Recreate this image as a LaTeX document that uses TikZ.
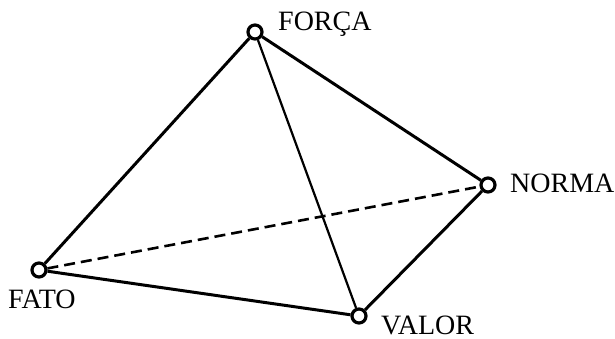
\documentclass[tikz,border=0pt]{standalone}
\usepackage{tikz}
\usepackage{fontspec}
\setmainfont{Liberation Serif}
\tikzset{
  vertex/.style={circle, draw=black, fill=white, line width=3.2pt, inner sep=0pt, minimum size=14pt},
  edge/.style={draw=black, line width=3pt},
  thinedge/.style={draw=black, line width=2.2pt},
  dashedge/.style={draw=black, line width=2.6pt, dash pattern=on 11pt off 6pt},
  tag/.style={font=\fontsize{28}{28}\selectfont, text=black, inner sep=0pt, anchor=base west}
}
\begin{document}
\begin{tikzpicture}[x=1pt,y=-1pt]
\useasboundingbox (0,0) rectangle (615,339);
\path[fill=white] (0,0) rectangle (615,339);
\node[vertex] (forca) at (255,32) {};
\node[vertex] (norma) at (488,185) {};
\node[vertex] (fato) at (39,270) {};
\node[vertex] (valor) at (359,316) {};
\draw[edge] (forca) -- (norma);
\draw[edge] (forca) -- (fato);
\draw[thinedge] (forca) -- (valor);
\draw[edge] (fato) -- (valor);
\draw[edge] (valor) -- (norma);
\draw[dashedge] (fato) -- (norma);
\node[tag] (forcatext) at (278,31) {FORÇA};
\node[tag] (normatext) at (510,193) {NORMA};
\node[tag] (fatotext) at (8,308) {FATO};
\node[tag] (valortext) at (381,334) {VALOR};
\end{tikzpicture}
\end{document}
